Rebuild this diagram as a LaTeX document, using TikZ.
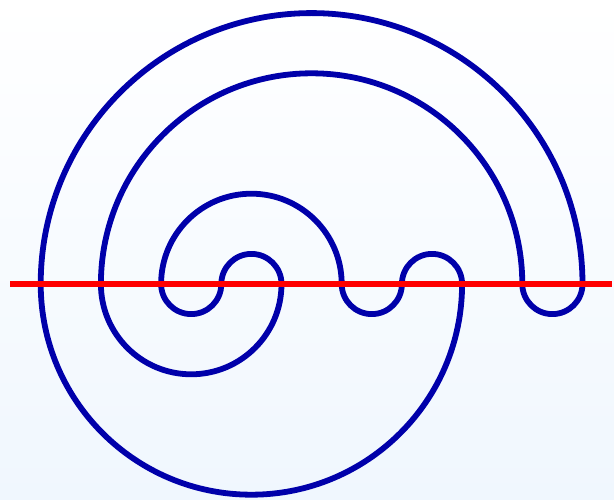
\documentclass[tikz,border=0pt]{standalone}
\usetikzlibrary{calc}

\definecolor{meanderblue}{RGB}{0,0,170}
\definecolor{bgtop}{RGB}{255,255,255}
\definecolor{bgbottom}{RGB}{240,247,254}

\begin{document}
\begin{tikzpicture}[
    x=1pt, y=1pt,
    curve/.style={draw=meanderblue, line width=5.8pt, line join=round},
    axis/.style={draw=red, line width=5.8pt}
]

% Background
\shade[top color=bgtop, bottom color=bgbottom] (0,0) rectangle (614,499);
\useasboundingbox (0,0) rectangle (614,499);

% Half of the spacing between crossings
\def\hs{30.1}

% Crossing points on the line
\foreach \i in {1,...,10} {
    \coordinate (p\i) at ({40.7+2*\hs*(\i-1)}, 215);
}
\coordinate (lstart) at (10,215);
\coordinate (lend) at (612,215);

% Meander curve
\draw[curve] (p1)
    arc[start angle=180, end angle=0, radius=9*\hs]    % p1 -> p10
    arc[start angle=0, end angle=-180, radius=\hs]     % p10 -> p9
    arc[start angle=0, end angle=180, radius=7*\hs]    % p9 -> p2
    arc[start angle=180, end angle=360, radius=3*\hs]  % p2 -> p5
    arc[start angle=0, end angle=180, radius=\hs]      % p5 -> p4
    arc[start angle=0, end angle=-180, radius=\hs]     % p4 -> p3
    arc[start angle=180, end angle=0, radius=3*\hs]    % p3 -> p6
    arc[start angle=180, end angle=360, radius=\hs]    % p6 -> p7
    arc[start angle=180, end angle=0, radius=\hs]      % p7 -> p8
    arc[start angle=0, end angle=-180, radius=7*\hs]   % p8 -> p1
    -- cycle;

% Line
\draw[axis] (lstart) -- (lend);

\end{tikzpicture}
\end{document}
